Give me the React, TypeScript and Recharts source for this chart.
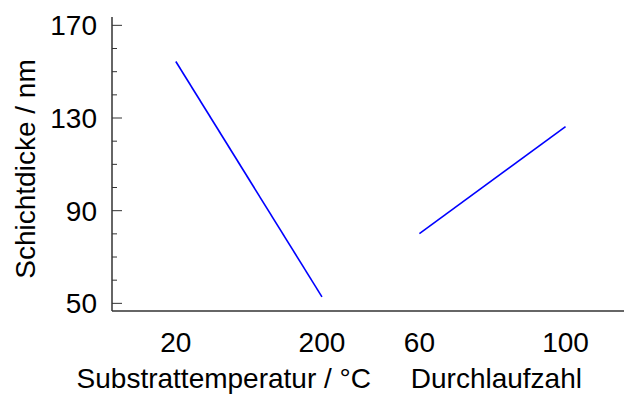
import React from "react";
import { LineChart, Line, XAxis, YAxis } from "recharts";

// Main effects on layer thickness
const substratLevels = ["20", "200"];
const substratValues = [154.4, 52.8];
const durchlaufLevels = ["60", "100"];
const durchlaufValues = [80.1, 126.3];

const yTicks = [50, 60, 70, 80, 90, 100, 110, 120, 130, 140, 150, 160, 170];
const yMajorTicks = [50, 90, 130, 170];

const FONT = "'Liberation Sans', Arial, sans-serif";
const AXIS = "#333333";

// each factor occupies its own block on the shared x axis
const LEVEL_STEP = 3;
const GROUP_STEP = 5;

const substratData = substratLevels.map((lv, i) => ({
  x: i * LEVEL_STEP,
  label: lv,
  y: substratValues[i],
}));
const durchlaufData = durchlaufLevels.map((lv, i) => ({
  x: GROUP_STEP + i * LEVEL_STEP,
  label: lv,
  y: durchlaufValues[i],
}));

const allPoints = [...substratData, ...durchlaufData];
const xTicks = allPoints.map((p) => p.x);
const labelByX: Record<number, string> = {};
allPoints.forEach((p) => (labelByX[p.x] = p.label));

const groupTitles: Record<number, { text: string; dx: number }> = {
  0: { text: "Substrattemperatur / °C", dx: 48 },
  5: { text: "Durchlaufzahl", dx: 77 },
};

const YTick = (props: any) => {
  const { x, y, payload } = props;
  const major = yMajorTicks.includes(payload.value);
  return (
    <g>
      <line x1={x} x2={x + (major ? 10 : 5)} y1={y} y2={y} stroke={AXIS} strokeWidth={1} />
      {major && (
        <text x={x - 15} y={y + 10} textAnchor="end" fontSize={28} fontFamily={FONT} fill="#000">
          {payload.value}
        </text>
      )}
    </g>
  );
};

const XTick = (props: any) => {
  const { x, y, payload } = props;
  const title = groupTitles[payload.value];
  return (
    <g>
      <text x={x} y={y + 41} textAnchor="middle" fontSize={28} fontFamily={FONT} fill="#000">
        {labelByX[payload.value]}
      </text>
      {title && (
        <text x={x + title.dx} y={y + 77} textAnchor="middle" fontSize={28} fontFamily={FONT} fill="#000">
          {title.text}
        </text>
      )}
    </g>
  );
};

const YTitle = (props: any) => {
  const vb = props.viewBox || {};
  const cy = (vb.y ?? 0) + (vb.height ?? 0) / 2 + 5;
  return (
    <text
      x={35}
      y={cy}
      transform={`rotate(-90, 35, ${cy})`}
      textAnchor="middle"
      fontSize={28}
      fontFamily={FONT}
      fill="#000"
    >
      Schichtdicke / nm
    </text>
  );
};

export default function App() {
  return (
    <div style={{ position: "absolute", left: 0, top: 0, width: 624, height: 394, background: "#fff" }}>
      <LineChart width={624} height={394} margin={{ top: 17, right: 0, bottom: 0, left: 12 }}>
        <XAxis
          type="number"
          dataKey="x"
          domain={[-1.31, 9.2]}
          ticks={xTicks}
          allowDataOverflow
          height={83}
          tickLine={false}
          tickSize={0}
          tickMargin={0}
          axisLine={{ stroke: AXIS, strokeWidth: 1.5 }}
          tick={<XTick />}
          interval={0}
        />
        <YAxis
          type="number"
          dataKey="y"
          domain={[46.7, 173.6]}
          ticks={yTicks}
          allowDataOverflow
          width={100}
          tickLine={false}
          tickSize={0}
          tickMargin={0}
          axisLine={{ stroke: AXIS, strokeWidth: 1.5 }}
          tick={<YTick />}
          interval={0}
          label={<YTitle />}
        />
        <Line
          data={substratData}
          dataKey="y"
          stroke="#0000ff"
          strokeWidth={1.6}
          dot={false}
          isAnimationActive={false}
        />
        <Line
          data={durchlaufData}
          dataKey="y"
          stroke="#0000ff"
          strokeWidth={1.6}
          dot={false}
          isAnimationActive={false}
        />
      </LineChart>
    </div>
  );
}
